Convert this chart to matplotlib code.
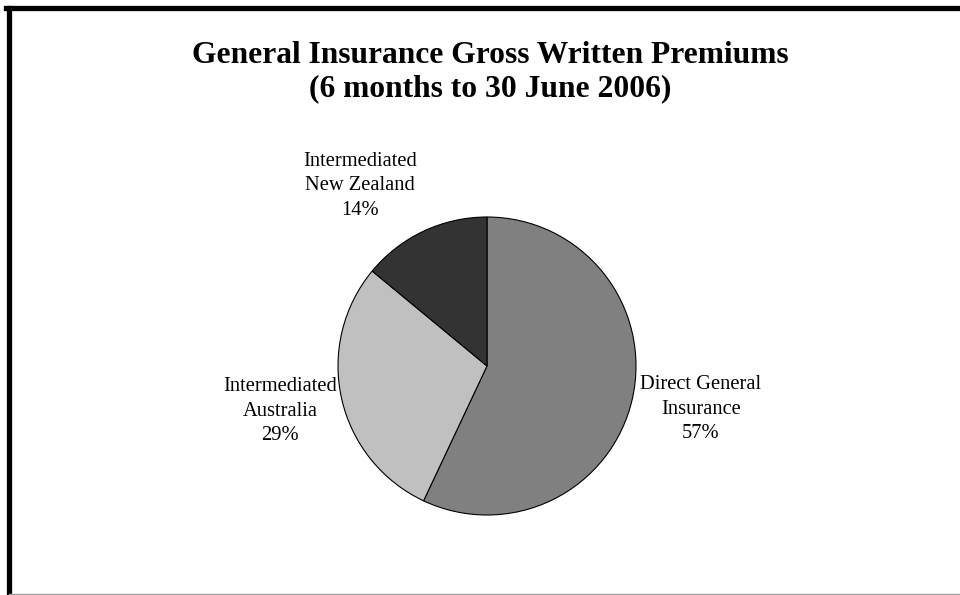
import numpy as np
import matplotlib
matplotlib.use('Agg')
import matplotlib.pyplot as plt
from matplotlib.lines import Line2D

labels = ["Direct General\nInsurance", "Intermediated\nAustralia", "Intermediated\nNew Zealand"]
shares = [57, 29, 14]
colors = ["#808080", "#c0c0c0", "#333333"]
title = "General Insurance Gross Written Premiums\n(6 months to 30 June 2006)"

plt.rcParams['font.family'] = ['Liberation Serif', 'DejaVu Serif']

fig = plt.figure(figsize=(9.6, 5.95), dpi=100)
ax = fig.add_axes([0, 0, 1, 1])

# pie radius 1 == 149 px, centre at (487, 366) px from top-left
R = 149.0
ax.pie(shares, colors=colors, startangle=90, counterclock=False,
       radius=1.0, center=(0, 0), frame=True,
       wedgeprops=dict(edgecolor='black', linewidth=0.8))
ax.set_xlim(-487 / R, (960 - 487) / R)
ax.set_ylim(-(595 - 366) / R, 366 / R)
ax.set_aspect('equal')
ax.axis('off')

# label positions (px from top-left of figure)
label_px = [(701, 409), (280, 411), (360, 186)]
for lab, pct, (px, py) in zip(labels, shares, label_px):
    ax.text((px - 487) / R, (366 - py) / R, f"{lab}\n{pct}%",
            ha='center', va='center', fontsize=14.8, linespacing=1.37)

fig.text(490 / 960, 1 - 72 / 595, title, ha='center', va='center',
         fontsize=22.7, fontweight='bold', linespacing=1.22)

# frame: thick black top and left, thin grey bottom
lw = 3.8
fig.add_artist(Line2D([6 / 960, 1], [1 - 7.5 / 595, 1 - 7.5 / 595], color='black', linewidth=lw))
fig.add_artist(Line2D([9 / 960, 9 / 960], [0, 1 - 7.5 / 595], color='black', linewidth=lw))
fig.add_artist(Line2D([9 / 960, 1], [1.2 / 595, 1.2 / 595], color='#a0a0a0', linewidth=1))

fig.savefig('out.png', dpi=100, facecolor='white')
